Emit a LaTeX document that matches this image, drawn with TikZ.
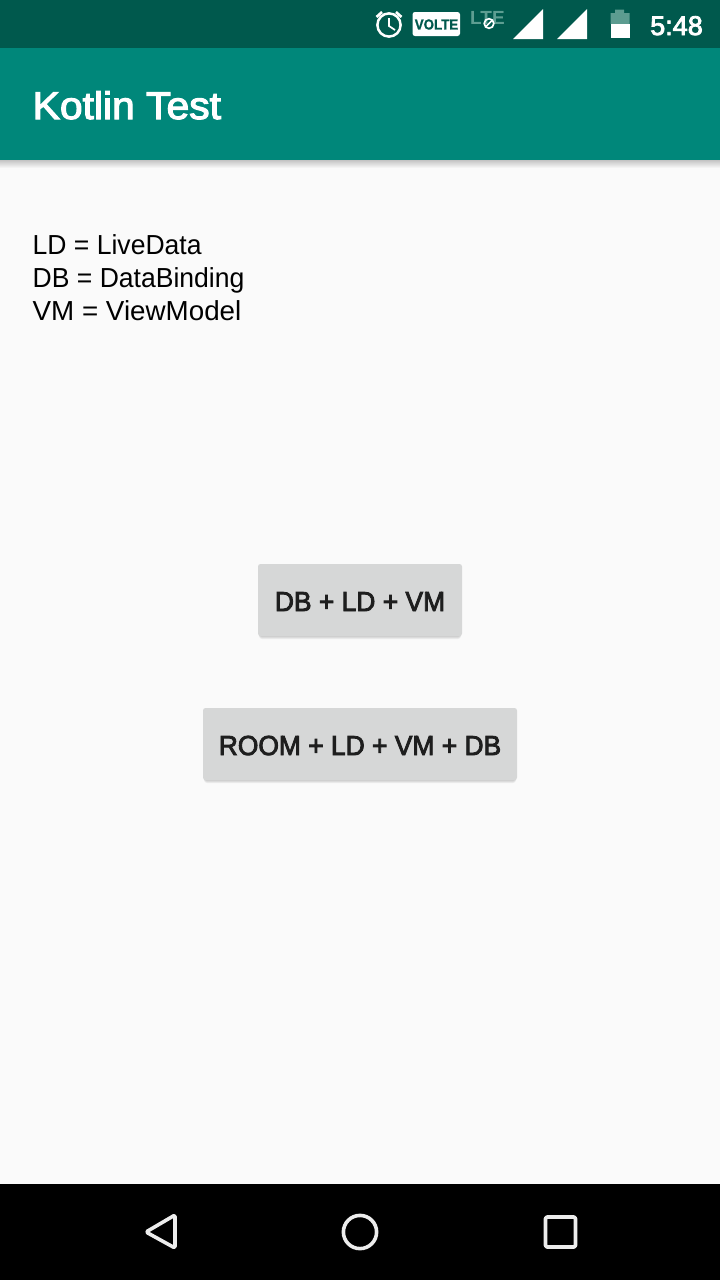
\documentclass[tikz,border=0pt]{standalone}
\usepackage{fontspec}
\setmainfont{Liberation Sans}
\newfontfamily\legendA{Liberation Sans}[FakeStretch=0.965]
\newfontfamily\legendB{Liberation Sans}[FakeStretch=1.01]
\newfontfamily\medium{Liberation Sans}[FakeBold=3,FakeStretch=0.96]
\newfontfamily\titlefont{Liberation Sans}[FakeBold=3,FakeStretch=1.06]
\newfontfamily\clockfont{Liberation Sans}[FakeBold=3]
\newfontfamily\badge{Liberation Sans Bold}[FakeBold=1,FakeStretch=0.92]
\definecolor{statusbg}{HTML}{00594D}
\definecolor{appbg}{HTML}{00877A}
\definecolor{pagebg}{HTML}{FAFAFA}
\definecolor{btnbg}{HTML}{D6D7D7}
\definecolor{btntext}{HTML}{1E1E1E}
\definecolor{navicon}{HTML}{EDEDED}
\definecolor{ltefade}{HTML}{5E9E92}
\definecolor{battfade}{HTML}{5C9C90}
\tikzset{
  x=1pt,y=-1pt,
  btn/.style={fill=btnbg,rounded corners=2.5pt,draw=none},
  btnshadow/.style={fill=black,opacity=0.06,rounded corners=3pt,draw=none},
  btnlabel/.style={inner sep=0,text=btntext,font=\fontsize{27.5}{30}\selectfont\medium},
  navline/.style={draw=navicon,line width=3.6pt,line join=round,fill=none},
  statusicon/.style={fill=white,draw=none},
}
\begin{document}
\begin{tikzpicture}
\useasboundingbox (0,0) rectangle (720,1280);
% page regions
\fill[pagebg] (0,0) rectangle (720,1280);
\shade[top color=black!22!pagebg,bottom color=pagebg] (0,160) rectangle (720,168);
\fill[appbg] (0,48) rectangle (720,160);
\fill[statusbg] (0,0) rectangle (720,48);
\fill[black] (0,1184) rectangle (720,1280);
% app title
\node[anchor=base west,inner sep=0,text=white,font=\fontsize{38.5}{40}\selectfont\titlefont] (title) at (32.5,119) {Kotlin Test};
% legend
\node[anchor=base west,inner sep=0,text=black,font=\fontsize{27.5}{30}\selectfont\legendA] (l1) at (32.5,254) {LD = LiveData};
\node[anchor=base west,inner sep=0,text=black,font=\fontsize{27.5}{30}\selectfont\legendA] (l2) at (32.5,287) {DB = DataBinding};
\node[anchor=base west,inner sep=0,text=black,font=\fontsize{27.5}{30}\selectfont\legendB] (l3) at (32.5,320) {VM = ViewModel};
% buttons
\foreach \d in {0,1,2,3}{
 \fill[btnshadow] (259,600) rectangle (461,636+\d);
 \fill[btnshadow] (204,744) rectangle (516,780+\d);
}
\fill[btn] (258,564) rectangle (462,636);
\fill[btn] (203,708) rectangle (517,780);
\node[btnlabel,anchor=base] (b1) at (360,611) {DB + LD + VM};
\node[btnlabel,anchor=base] (b2) at (360,755) {ROOM + LD + VM + DB};
% nav icons
\draw[navline,rounded corners=1.5pt] (175,1215) -- (175,1248) -- (146,1232) -- cycle;
\draw[navline] (360,1232) circle (16.6);
\draw[navline,rounded corners=1.5pt] (545.5,1217) rectangle (575.5,1247);
% alarm clock
\draw[white,line width=2.5pt] (389,25) circle (11.6);
\draw[white,line width=1.8pt] (389,18) -- (389,26) -- (395,30);
\draw[white,line width=2.6pt] (376.5,17) -- (382,12);
\draw[white,line width=2.6pt] (401.5,17) -- (396,12);
% VoLTE badge
\fill[white,rounded corners=2.5pt] (412.5,12) rectangle (460,36);
\node[inner sep=0,text=statusbg,font=\fontsize{14.5}{16}\selectfont\badge] (volte) at (436.5,24.5) {VOLTE};
% LTE
\node[inner sep=0,anchor=base west,text=ltefade,font=\fontsize{19}{20}\selectfont\bfseries] (lte) at (470,24) {LTE};
\draw[white,line width=1.7pt] (489,23.5) circle (4.8);
\draw[white,line width=1.7pt] (485.8,26.7) -- (492.2,20.3);
% signals
\fill[statusicon] (513,39) -- (543,9) -- (543,39) -- cycle;
\fill[statusicon] (557,39) -- (587,9) -- (587,39) -- cycle;
% battery
\fill[battfade] (610.5,13) -- (615,13) -- (615,9.5) -- (624,9.5) -- (624,13) -- (629.5,13) -- (629.5,24) -- (610.5,24) -- cycle;
\fill[white] (610.5,24) rectangle (629.5,38);
% clock
\node[anchor=base east,inner sep=0,text=white,font=\fontsize{27}{30}\selectfont\clockfont] (clock) at (703,35) {5:48};
\end{tikzpicture}
\end{document}
